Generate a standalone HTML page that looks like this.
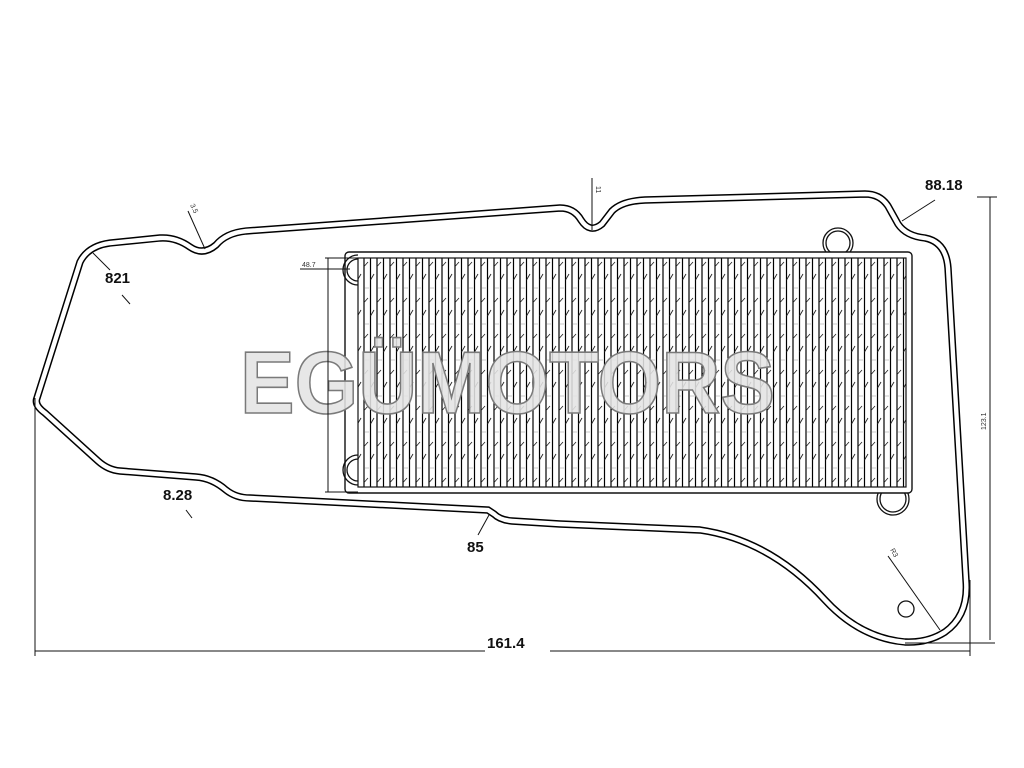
<!DOCTYPE html>
<html><head><meta charset="utf-8"><style>
html,body{margin:0;padding:0;background:#fff;}
svg{display:block;}
text{font-family:"Liberation Sans",sans-serif;}
</style></head><body>
<svg width="1024" height="768" viewBox="0 0 1024 768" xmlns="http://www.w3.org/2000/svg">
<defs>
<pattern id="fin" x="362" y="258" width="13" height="36" patternUnits="userSpaceOnUse">
<line x1="2" y1="0" x2="2" y2="36" stroke="#000" stroke-width="1.2"/>
<line x1="8.5" y1="0" x2="8.5" y2="36" stroke="#000" stroke-width="1.2"/>
<line x1="8.5" y1="22" x2="12" y2="16" stroke="#222" stroke-width="0.9"/>
<line x1="2.5" y1="8" x2="6" y2="4" stroke="#222" stroke-width="0.8"/>
<line x1="3" y1="30" x2="7" y2="30" stroke="#bbb" stroke-width="0.8"/>
</pattern>
</defs>
<rect width="1024" height="768" fill="#fff"/>
<g fill="none">
<path d="M 37 398 L 80 262 Q 88 246 110 243 L 160 238 Q 176 237 190 247 Q 203 256 216 245 Q 226 233 246 231 L 560 208 Q 574 208 581 220 Q 590 234 602 224 L 612 211 Q 622 201 645 200 L 865 194 Q 880 194 888 206 L 898 224 Q 906 236 925 238 Q 946 242 948 268 L 966 580 Q 969 615 945 632 Q 928 643 905 642 Q 860 638 825 600 Q 770 540 700 530 L 560 524 L 512 521 Q 500 520 494 514 L 488 510 L 250 498 Q 236 498 226 490 Q 212 478 196 477 L 120 471 Q 108 470 98 461 L 45 413 Q 34 405 37 398 Z" stroke="#000" stroke-width="7.4"/>
<path d="M 37 398 L 80 262 Q 88 246 110 243 L 160 238 Q 176 237 190 247 Q 203 256 216 245 Q 226 233 246 231 L 560 208 Q 574 208 581 220 Q 590 234 602 224 L 612 211 Q 622 201 645 200 L 865 194 Q 880 194 888 206 L 898 224 Q 906 236 925 238 Q 946 242 948 268 L 966 580 Q 969 615 945 632 Q 928 643 905 642 Q 860 638 825 600 Q 770 540 700 530 L 560 524 L 512 521 Q 500 520 494 514 L 488 510 L 250 498 Q 236 498 226 490 Q 212 478 196 477 L 120 471 Q 108 470 98 461 L 45 413 Q 34 405 37 398 Z" stroke="#fff" stroke-width="4.4"/>
</g>
<g fill="#fff" stroke="#111" stroke-width="1.3">
<circle cx="838" cy="243" r="15"/><circle cx="838" cy="243" r="12"/>
<circle cx="893" cy="499" r="16"/><circle cx="893" cy="499" r="13"/>
<circle cx="906" cy="609" r="8"/>
</g>
<rect x="345" y="252" width="567" height="241" rx="4" fill="#fff" stroke="#111" stroke-width="1.4"/>
<rect x="358" y="258" width="548" height="229" fill="url(#fin)" stroke="#111" stroke-width="1.2"/>
<g fill="none" stroke="#111" stroke-width="1.3">
<path d="M 358 255 A 15 15 0 1 0 358 285"/><path d="M 358 259 A 11 11 0 1 0 358 281"/>
<path d="M 358 455 A 15 15 0 1 0 358 485"/><path d="M 358 459 A 11 11 0 1 0 358 481"/>
</g>
<text x="240" y="413" font-size="88" font-weight="bold" fill="#e4e4e4" fill-opacity="0.88" stroke="#7a7a7a" stroke-width="1.6" textLength="535" lengthAdjust="spacingAndGlyphs">EGÜMOTORS</text>
<g stroke="#111" stroke-width="1" fill="none">
<line x1="35" y1="398" x2="35" y2="656"/>
<line x1="35" y1="651" x2="485" y2="651"/>
<line x1="550" y1="651" x2="970" y2="651"/>
<line x1="970" y1="580" x2="970" y2="656"/>
<line x1="990" y1="197" x2="990" y2="640"/>
<line x1="977" y1="197" x2="997" y2="197"/>
<line x1="905" y1="643" x2="995" y2="643"/>
<line x1="328" y1="258" x2="328" y2="492"/>
<line x1="325" y1="258" x2="358" y2="258"/>
<line x1="325" y1="492" x2="358" y2="492"/>
<line x1="300" y1="269" x2="350" y2="269"/>
<line x1="93" y1="253" x2="110" y2="270"/>
<line x1="122" y1="295" x2="130" y2="304"/>
<line x1="186" y1="510" x2="192" y2="518"/>
<line x1="489" y1="515" x2="478" y2="535"/>
<line x1="935" y1="200" x2="902" y2="221"/>
<line x1="592" y1="178" x2="592" y2="230"/>
<line x1="188" y1="211" x2="205" y2="249"/>
<line x1="888" y1="556" x2="940" y2="630"/>
</g>
<g font-weight="bold" font-size="15" fill="#111">
<text x="105" y="283">821</text>
<text x="163" y="500">8.28</text>
<text x="467" y="552">85</text>
<text x="925" y="190">88.18</text>
<text x="487" y="648">161.4</text>
</g>
<g font-size="7" fill="#333">
<text x="302" y="267">48.7</text>
<text x="0" y="0" transform="translate(986,430) rotate(-90)">123.1</text>
<text x="0" y="0" transform="translate(596,186) rotate(90)">11</text>
<text x="0" y="0" transform="translate(190,205) rotate(65)">3.5</text>
<text x="0" y="0" transform="translate(890,550) rotate(60)">R3</text>
</g>
</svg>
</body></html>
